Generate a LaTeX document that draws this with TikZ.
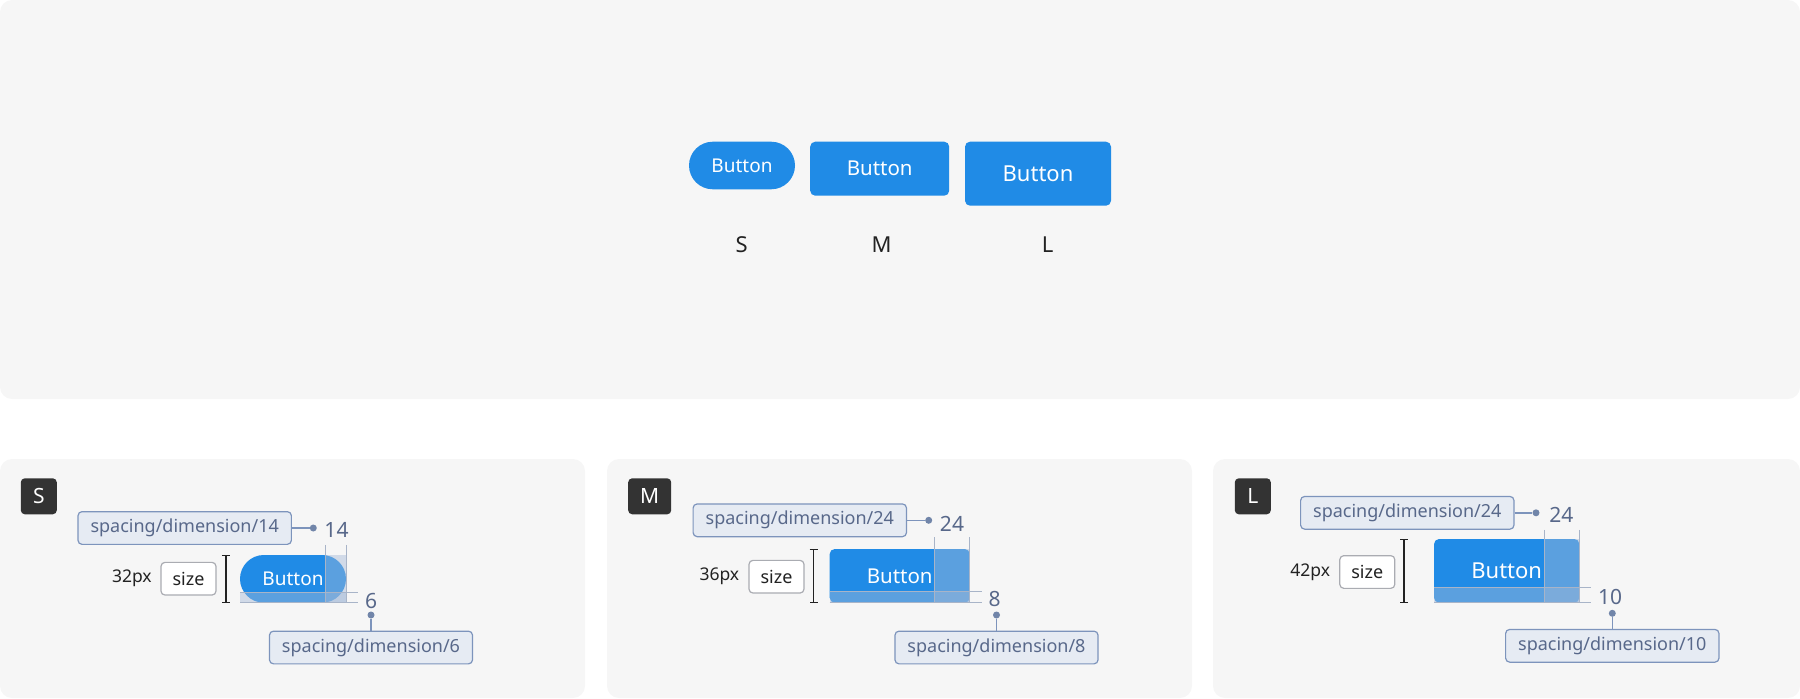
\documentclass[tikz,border=0pt]{standalone}
\usepackage{fontspec}
\setmainfont{Noto Sans}
\usetikzlibrary{positioning,arrows.meta}
\definecolor{panelGray}{RGB}{246,246,246}
\definecolor{btnBlue}{RGB}{32,139,230}
\definecolor{padBlue}{RGB}{164,186,216}
\definecolor{tagFill}{RGB}{230,235,243}
\definecolor{tagLine}{RGB}{125,148,188}
\definecolor{tagText}{RGB}{88,104,138}
\definecolor{guideGray}{RGB}{168,180,200}
\definecolor{badgeDark}{RGB}{51,51,51}
\definecolor{sizeLine}{RGB}{170,172,178}
\definecolor{inkDark}{RGB}{34,34,34}

\begin{document}
\begin{tikzpicture}[x=1pt,y=-1pt,
  btn/.style={fill=btnBlue,text=white,inner sep=0pt},
  tag/.style={draw=tagLine,fill=tagFill,text=tagText,rounded corners=4pt,line width=1.2pt,
    minimum height=32.7pt,inner xsep=12.5pt,inner ysep=0pt,font=\fontsize{18}{21}\selectfont},
  dot/.style={circle,fill=tagLine!90!black,inner sep=0pt,minimum size=7pt},
  link/.style={draw=tagLine,line width=1.4pt},
  num/.style={text=tagText,inner sep=0pt,font=\fontsize{21}{24}\selectfont},
  pad/.style={fill=padBlue,fill opacity=0.45,draw=none,inner sep=0pt,outer sep=0pt},
  guide/.style={draw=guideGray,line width=1pt},
  hbar/.style={draw=inkDark,line width=1.4pt,{Bar[width=8pt]}-{Bar[width=8pt]}},
  sizebox/.style={draw=sizeLine,fill=white,rounded corners=4pt,line width=1.2pt,text=inkDark,
    minimum height=32.7pt,minimum width=55pt,inner sep=0pt,font=\fontsize{18}{21}\selectfont},
  dimtext/.style={text=inkDark,inner sep=0pt,font=\fontsize{17.5}{20}\selectfont},
  badge/.style={fill=badgeDark,text=white,rounded corners=4pt,minimum height=36pt,minimum width=36pt,
    inner sep=0pt,font=\fontsize{21}{24}\selectfont},
  sizelabel/.style={text=inkDark,inner sep=0pt,font=\fontsize{22}{26}\selectfont}]
\useasboundingbox (0,0) rectangle (1800,699);
% Panels
\fill[panelGray,rounded corners=12pt] (0,0) rectangle (1800,399);
\fill[panelGray,rounded corners=12pt] (0,459) rectangle (585,698);
\fill[panelGray,rounded corners=12pt] (607,459) rectangle (1192,698);
\fill[panelGray,rounded corners=12pt] (1213,459) rectangle (1800,698);
% Overview buttons
\node[btn,minimum width=106pt,minimum height=47.6pt,rounded corners=23.8pt,font=\fontsize{19}{22}\selectfont] (topS) at (742,165.5) {Button};
\node[btn,minimum width=139pt,minimum height=54pt,rounded corners=5pt,font=\fontsize{20.5}{24}\selectfont] (topM) at (879.7,168.7) {Button};
\node[btn,minimum width=146pt,minimum height=64pt,rounded corners=5pt,font=\fontsize{22}{26}\selectfont] (topL) at (1038,173.7) {Button};
\node[sizelabel] (lblS) at (741.7,245) {S};
\node[sizelabel] (lblM) at (881.7,245) {M};
\node[sizelabel] (lblL) at (1047.7,245) {L};
% Size S
\node[badge] (badgeS) at (38.8,496.3) {S};
\node[tag] (tagS14) at (184.7,528) {spacing/dimension/14};
\node[dot] (dotS14) at (313.3,528) {};
\node[num] (numS14) at (336.5,530) {14};
\draw[link] (tagS14.east) -- (dotS14);
\node[btn,minimum width=106pt,minimum height=47.7pt,rounded corners=23.85pt,font=\fontsize{19}{22}\selectfont] (btnS) at (293,578.85) {Button};
\node[pad,minimum width=21pt,minimum height=47.7pt,anchor=north east] (padSr) at (btnS.north east) {};
\node[pad,minimum width=106pt,minimum height=10pt,anchor=south] (padSb) at (btnS.south) {};
\draw[guide] (padSr.north west |- tagS14.south) -- (padSr.south west);
\draw[guide] (padSr.north east |- tagS14.south) -- (padSr.south east);
\draw[guide] (padSb.north west) -- ([xshift=12pt]padSb.north east);
\draw[guide] (padSb.south west) -- ([xshift=12pt]padSb.south east);
\node[num] (numS6) at (371.2,600.7) {6};
\node[dot] (dotS6) at (371,615) {};
\node[tag] (tagS6) at (371,647.5) {spacing/dimension/6};
\draw[link] (dotS6) -- (tagS6.north);
\draw[hbar] ([xshift=-14pt]btnS.north west) -- ([xshift=-14pt]btnS.south west);
\node[sizebox] (sizeS) at (188.5,578.7) {size};
\node[dimtext,left=8.5pt of sizeS] (pxS) {32px};
% Size M
\node[badge,minimum width=43pt] (badgeM) at (649.7,496.3) {M};
\node[tag] (tagM24) at (799.8,520.3) {spacing/dimension/24};
\node[dot] (dotM24) at (928.7,520.3) {};
\node[num] (numM24) at (952,524.3) {24};
\draw[link] (tagM24.east) -- (dotM24);
\node[btn,minimum width=140pt,minimum height=53.7pt,rounded corners=5pt,font=\fontsize{20.5}{24}\selectfont] (btnM) at (899.7,575.85) {Button};
\node[pad,minimum width=35pt,minimum height=53.7pt,anchor=north east] (padMr) at (btnM.north east) {};
\node[pad,minimum width=140pt,minimum height=11.7pt,anchor=south] (padMb) at (btnM.south) {};
\draw[guide] (padMr.north west |- tagM24.south) -- (padMr.south west);
\draw[guide] (padMr.north east |- tagM24.south) -- (padMr.south east);
\draw[guide] (padMb.north west) -- ([xshift=12.3pt]padMb.north east);
\draw[guide] (padMb.south west) -- ([xshift=12.3pt]padMb.south east);
\node[num] (numM8) at (994.5,599) {8};
\node[dot] (dotM8) at (996.5,615) {};
\node[tag] (tagM8) at (996.5,647.5) {spacing/dimension/8};
\draw[link] (dotM8) -- (tagM8.north);
\draw[hbar] ([xshift=-16pt]btnM.north west) -- ([xshift=-16pt]btnM.south west);
\node[sizebox] (sizeM) at (776.5,576.7) {size};
\node[dimtext,left=9pt of sizeM] (pxM) {36px};
% Size L
\node[badge] (badgeL) at (1252.8,496.3) {L};
\node[tag] (tagL24) at (1407.3,512.8) {spacing/dimension/24};
\node[dot] (dotL24) at (1536,512.8) {};
\node[num] (numL24) at (1561.3,515) {24};
\draw[link] (tagL24.east) -- (dotL24);
\node[btn,minimum width=145.3pt,minimum height=63.7pt,rounded corners=5pt,font=\fontsize{22}{26}\selectfont] (btnL) at (1506.7,570.85) {Button};
\node[pad,minimum width=35.3pt,minimum height=63.7pt,anchor=north east] (padLr) at (btnL.north east) {};
\node[pad,minimum width=145.3pt,minimum height=15.7pt,anchor=south] (padLb) at (btnL.south) {};
\draw[guide] (padLr.north west |- tagL24.south) -- (padLr.south west);
\draw[guide] (padLr.north east |- tagL24.south) -- (padLr.south east);
\draw[guide] (padLb.north west) -- ([xshift=11.7pt]padLb.north east);
\draw[guide] (padLb.south west) -- ([xshift=11.7pt]padLb.south east);
\node[num] (numL10) at (1610.2,597.3) {10};
\node[dot] (dotL10) at (1612.3,613.3) {};
\node[tag] (tagL10) at (1612.3,645.8) {spacing/dimension/10};
\draw[link] (dotL10) -- (tagL10.north);
\draw[hbar] ([xshift=-29.7pt]btnL.north west) -- ([xshift=-29.7pt]btnL.south west);
\node[sizebox] (sizeL) at (1367.3,572) {size};
\node[dimtext,left=9pt of sizeL] (pxL) {42px};
\end{tikzpicture}
\end{document}
